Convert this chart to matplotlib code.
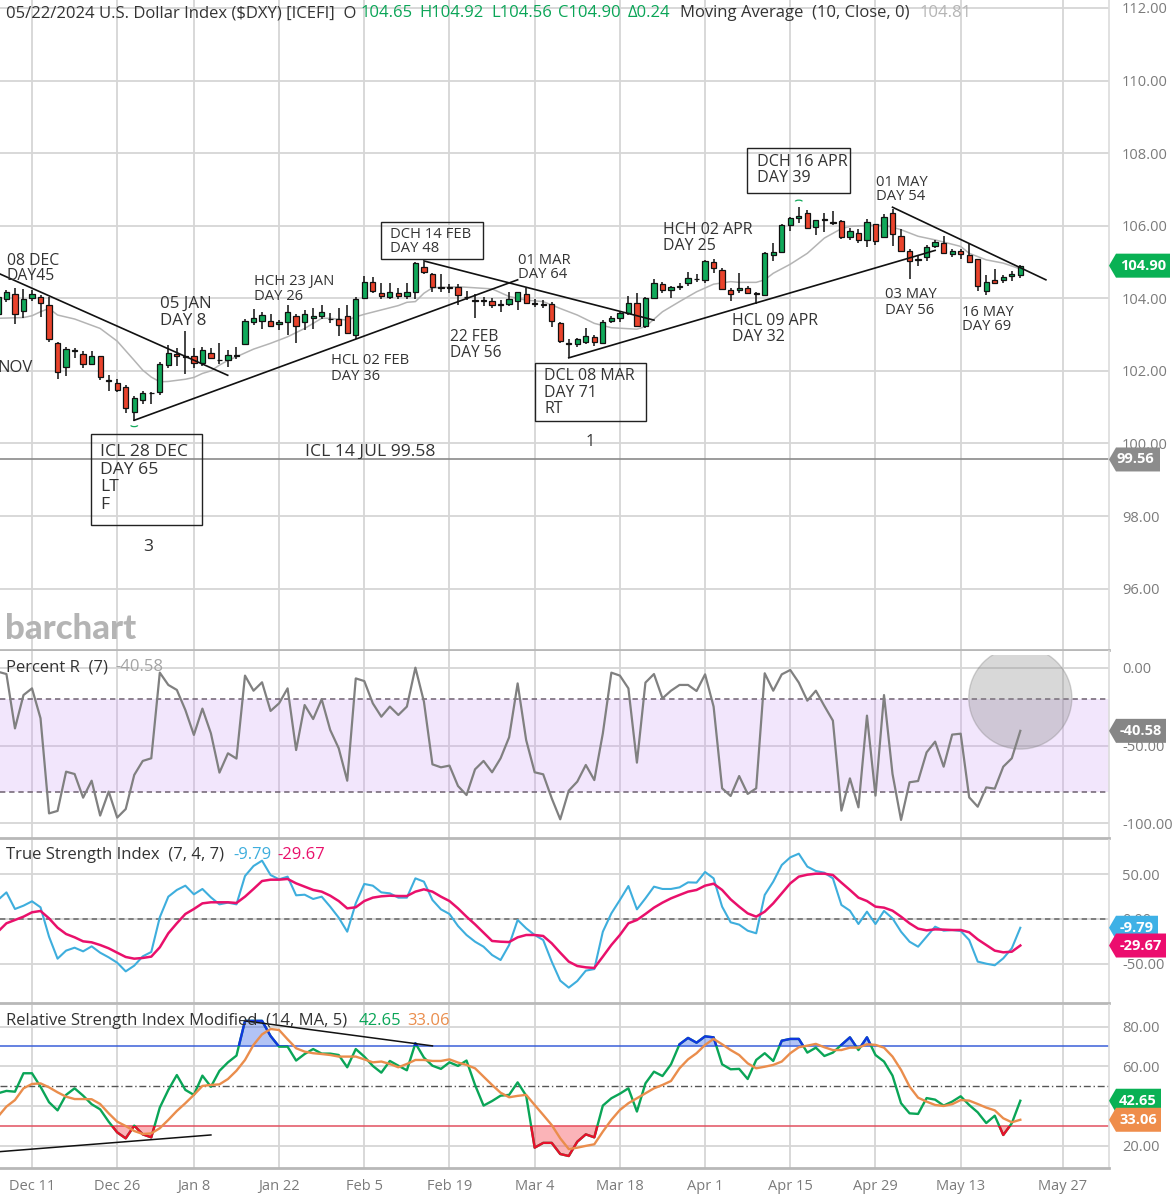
import numpy as np
import matplotlib
matplotlib.use('Agg')
import matplotlib.pyplot as plt
from matplotlib.patches import Rectangle, Ellipse, Arc, Polygon

plt.rcParams['font.family'] = ['Open Sans', 'DejaVu Sans']

# daily bars, index 0 is Dec 11
opens = [103.56,103.98,104.11,103.65,104.00,104.03,103.82,102.77,102.11,102.55,102.47,102.19,102.40,101.76,101.66,101.55,100.87,101.20,101.38,101.42,
         102.16,102.46,102.41,102.40,102.23,102.48,102.29,102.30,102.41,102.74,103.35,103.38,103.38,103.28,103.35,103.52,103.35,103.47,103.51,103.44,
         103.42,103.52,103.00,104.01,104.46,104.16,104.03,104.15,104.07,104.18,104.85,104.66,104.32,104.32,104.32,104.05,103.96,103.95,103.94,103.83,
         103.84,103.93,104.13,103.88,103.85,103.83,103.33,102.76,102.74,102.79,102.94,102.76,103.38,103.45,103.59,103.87,103.24,104.00,104.40,104.24,
         104.31,104.42,104.52,104.50,105.00,104.78,104.23,104.22,104.29,104.15,104.09,105.20,105.27,106.03,106.20,106.34,105.97,106.17,106.10,106.14,
         105.68,105.81,105.60,106.05,105.70,106.34,105.71,105.31,105.06,105.15,105.43,105.53,105.23,105.31,105.20,105.07,104.20,104.51,104.50,104.61,104.65]
closes = [104.05,104.17,103.56,103.98,104.11,103.87,102.88,101.97,102.60,102.58,102.18,102.41,101.84,101.72,101.47,100.99,101.24,101.38,101.40,102.20,
          102.49,102.42,102.39,102.23,102.57,102.36,102.30,102.43,102.45,103.37,103.47,103.55,103.24,103.34,103.63,103.24,103.58,103.50,103.61,103.42,
          103.27,103.05,103.97,104.46,104.21,104.06,104.18,104.07,104.18,104.97,104.72,104.30,104.29,104.29,104.08,104.03,103.94,103.94,103.82,103.82,
          103.97,104.17,103.88,103.84,103.82,103.37,102.82,102.74,102.87,102.97,102.79,103.36,103.45,103.59,103.87,103.24,104.01,104.43,104.24,104.30,
          104.34,104.55,104.53,105.03,104.83,104.26,104.13,104.29,104.14,104.13,105.26,105.29,106.01,106.21,106.28,105.95,106.15,106.19,106.07,105.68,
          105.86,105.60,106.10,105.59,106.23,105.76,105.31,105.04,105.09,105.42,105.56,105.24,105.31,105.23,105.00,104.35,104.46,104.43,104.58,104.68,104.90]
highs = [104.14,104.23,104.28,104.26,104.23,104.09,104.05,102.80,102.66,102.64,102.54,102.54,102.41,101.90,101.77,101.60,101.30,101.44,101.42,102.25,
         102.71,102.62,103.10,102.64,102.66,102.64,102.76,102.57,102.66,103.43,103.70,103.63,103.56,103.41,103.82,103.56,103.69,103.74,103.82,103.59,
         103.74,103.82,104.05,104.62,104.60,104.43,104.43,104.28,104.41,105.01,105.00,104.70,104.68,104.39,104.39,104.20,104.11,104.05,104.00,103.95,
         104.18,104.18,104.29,103.98,103.95,103.89,103.35,102.89,102.91,103.19,103.00,103.40,103.52,103.65,104.07,104.15,104.05,104.53,104.46,104.34,
         104.41,104.72,104.68,105.05,105.09,104.83,104.29,104.69,104.35,104.18,105.29,105.52,106.05,106.25,106.53,106.44,106.17,106.35,106.40,106.17,
         105.94,105.92,106.19,106.06,106.32,106.47,105.92,105.36,105.20,105.46,105.61,105.73,105.36,105.35,105.49,105.09,104.63,104.81,104.65,104.74,104.92]
lows = [103.45,103.89,103.28,103.45,103.93,103.49,102.80,101.79,101.86,102.36,102.08,102.18,101.74,101.45,101.42,100.85,100.61,101.08,101.08,101.35,
        102.08,102.14,101.91,102.08,102.14,102.34,102.18,102.10,102.34,102.73,103.26,103.15,103.23,103.12,102.99,102.78,103.14,103.15,103.43,103.31,
        102.96,103.03,102.89,104.00,104.14,103.98,103.98,103.98,103.98,103.98,104.68,104.18,104.18,104.14,103.82,103.95,103.45,103.80,103.74,103.61,
        103.80,103.67,103.85,103.75,103.74,103.21,102.78,102.36,102.66,102.73,102.69,102.75,103.31,103.34,103.54,103.22,103.19,103.98,104.15,104.00,
        104.24,104.33,104.44,104.42,104.70,104.23,103.93,104.14,104.11,103.85,104.07,105.03,105.25,105.86,106.07,105.90,105.75,105.84,106.01,105.64,
        105.61,105.52,105.42,105.47,105.68,105.44,105.29,104.52,104.88,105.03,105.38,105.22,105.14,105.09,104.98,104.20,104.09,104.41,104.41,104.48,104.56]

# moving average, read at these bars only
ma_bars = [-4,-1,0,1,2,3,5,8,10,12,13,14,15,16,18,19,20,21,22,23,24,26,28,30,32,33,34,35,37,38,39,41,43,44,45,46,47,50,54,56,58,60,62,64,66,68,71,72,74,76,78,80,82,83,85,86,87,89,91,93,95,96,98,100,101,102,104,106,109,110,112,114,116]
ma_vals = [103.45,103.47,103.52,103.63,103.72,103.54,103.43,103.17,102.82,102.29,102.02,101.83,101.70,101.71,101.77,101.82,101.93,102.00,102.16,102.29,102.39,102.60,102.76,102.94,103.17,103.31,103.45,103.45,103.40,103.49,103.56,103.68,103.80,103.89,103.91,104.14,104.29,104.32,104.26,104.05,103.95,103.91,103.72,103.54,103.31,103.19,103.15,103.22,103.63,103.91,104.18,104.39,104.46,104.44,104.44,104.51,104.69,104.94,105.24,105.66,105.92,105.98,106.01,106.01,105.96,105.89,105.71,105.61,105.43,105.24,105.06,104.97,104.81]

percent_r = [-2.6,-4.1,-39,-17.6,-13.3,-32.5,-93.6,-92,-66.8,-68.3,-83.5,-72.6,-95,-79.6,-96.3,-90.8,-68.9,-59.9,-58.2,-3.2,
             -11.1,-14.3,-27.2,-43.2,-26.3,-42.2,-67.4,-55,-58.4,-5.1,-14.8,-9.4,-27.8,-22.9,-13.3,-52.9,-24,-33,-20.3,-40,
             -51.8,-72.6,-6.9,-8.6,-22.9,-31.5,-25,-30.4,-25,0,-21.8,-62.1,-64,-62.9,-76,-81.8,-65.3,-59.9,-67.2,-58.2,
             -44.7,-10.1,-46.5,-67.2,-68.5,-83.9,-97.4,-79,-73.2,-62.5,-72.2,-42.2,-3.2,-5.1,-13.3,-61,-9.6,-4.1,-19.7,-14.8,
             -11.1,-11.1,-15,-4.3,-25,-77.5,-82.4,-69.6,-81.1,-77.5,-3.6,-14.8,-4.3,-1.5,-9.6,-21.2,-14.8,-24.6,-34,-91.8,
             -71.1,-89.7,-30.8,-82.2,-17.6,-68.3,-97.8,-73.6,-72.8,-54.4,-47.5,-63.6,-43,-42.4,-83.3,-89.3,-76.9,-77.7,-63.6,-58.2,-40.58]

tsi_line = [21.3,29.8,11.2,14.9,19.8,13.1,-19.8,-44.4,-35.4,-32.1,-36.2,-30.6,-37.7,-42.9,-48.9,-58.6,-52.2,-41.8,-36.9,1.9,
            25,32.5,37.3,27.6,33.6,24.2,16.4,18.3,16.4,48.1,59.3,65.3,49.2,44.4,47.4,26.5,27.2,22.4,25,13.8,
            1.5,-14.2,17.5,39.2,37.3,29.8,28.7,23.9,23.9,45.5,41.8,21.3,10.8,5.6,-7.8,-17.9,-25.4,-31,-40.3,-45.9,
            -29.1,-1.1,-10.4,-17.9,-23.5,-47.7,-69,-76.8,-69.4,-57.8,-56,-14.2,6.3,21.3,36.9,10.8,23.1,36.2,33.6,33.6,
            35.4,41,40.7,52.6,45.5,13.8,-3.7,-6.3,-13.1,-16,26.9,41.8,60.4,69,73.1,58.6,53.7,51.8,45.5,15.7,
            9.3,-5.6,8.2,-5.6,9,0.7,-14.2,-25.4,-31,-19.8,-8.6,-13.1,-12.3,-13.4,-23.5,-47.7,-50,-51.8,-44,-32.8,-9.79]
tsi_signal = [-14.2,-4.8,-1.1,2.6,7.5,9,0.7,-9.7,-16.8,-20.5,-25,-26.1,-29.1,-32.8,-37.7,-42.5,-44.4,-43.6,-42.1,-31.7,
              -16,-4.8,5.6,11.2,17.5,18.7,18.7,18.7,17.9,25,33.6,42.5,44,44,44.8,39.9,36.2,32.5,30.6,26.1,
              20.1,11.9,13.1,20.1,23.9,25.4,26.1,25.7,25.7,30.6,33.2,30.6,25,20.1,11.9,2.6,-6,-15.3,-24.6,-25.4,
              -25.8,-20.5,-17.9,-17.9,-19,-27.2,-37.7,-47.7,-52.6,-54.1,-54.8,-42.1,-29.1,-17.9,-4.8,-1.1,5.6,12.7,18.3,23.1,
              26.9,30.6,32.5,37.3,39.5,32.5,22,13.8,6.3,2.6,8.2,17.5,28.7,39.9,47.4,49.6,50.7,50.7,49.2,40.7,
              32.5,23.9,20.1,13.8,12.7,9.3,2.6,-4.8,-10.8,-12.7,-11.6,-11.9,-12.3,-12.3,-14.9,-22.8,-29.1,-35.4,-37.3,-36.6,-29.67]

rsi_line = [46.4,47.6,47.2,56.5,56.5,49.7,41.9,37.8,45.6,48.9,45.2,40.9,38.3,32.1,26.7,23.7,30.1,25.7,24.2,39.2,
            48.1,55.6,48.1,45.6,55.3,49.7,57.7,62,65.4,82.9,82.9,82.9,75.3,69.9,69.9,62.9,66.2,68.7,66.4,66.4,
            65.7,59.5,68.7,64.9,60.2,56.8,62.7,60.3,58,71.6,64.4,60.3,58.7,62,60.2,62.9,50.6,40.2,42.5,45.2,
            45.6,51.9,45.2,19,21.4,21.4,15.8,14.8,22,25.7,24.2,40.2,43.9,46.2,48.9,37.2,51.4,57.3,55.1,61,
            71.1,74.3,71.9,75.1,74.6,61,58.5,58.7,53.6,63.2,66.6,62.7,72.9,73.8,73.8,66.9,69.4,65.2,66.9,70.8,
            74.6,68.2,74.6,65.7,62.4,55.3,41.4,36.3,36,44,43.2,40.2,42.2,44.9,40.5,36.8,31.4,35.1,25.4,31.3,42.65]
rsi_ma = [34.6,39.7,43,48.9,51.1,51.4,49.4,46.9,44.7,43.5,43.5,43.4,41,36.3,32.1,29.9,27.4,25.9,26.2,28.8,
          33,37.5,41.4,45.6,50.1,50.6,50.9,53.6,57.8,63.2,70.8,76.1,78.8,78.3,73.6,69.1,67.4,66.6,66.2,65.7,
          64.9,64.9,64.9,63.5,62,62.4,61.2,59.5,61.2,63.2,63.2,62.7,62.7,63.5,61.9,60.7,59,54.8,50.6,46.7,
          44.4,45.1,45.6,40.5,35.5,30.4,23.7,18.3,19,19.9,20.7,27.1,33,38,41.4,43.9,46.4,48.9,50.6,52.6,
          59,63.5,66.6,70.8,73.8,71.1,68.2,65.7,61.5,59,59.8,60.7,62.4,66.6,69.6,70.4,71.3,69.6,68.2,68.2,
          69.4,69.4,71.1,70.8,69.4,64.9,58.2,49.8,44.2,42.2,40.5,40,40.9,43,42.7,41,39.2,37.8,33.8,31.8,33.06]

date_ticks = [0,10,19,29,39,49,59,69,79,89,99,109,121]
date_labels = ['Dec 11','Dec 26','Jan 8','Jan 22','Feb 5','Feb 19','Mar 4','Mar 18','Apr 1','Apr 15','Apr 29','May 13','May 27']
price_ticks = [96,98,100,102,104,106,108,110,112]
pr_ticks = [0,-50,-100]
tsi_ticks = [50,0,-50]
rsi_ticks = [20,40,60,80]
# trend lines drawn on the chart: bar, price, bar, price
price_trends = [(-3.75,104.67,22.97,101.88),(12,100.64,57,104.51),(46,105.03,73,103.40),(63,102.36,106,105.32),(101,106.51,119,104.51)]
rsi_trends = [(-3.75,17,21,25.4),(25,82.9,47,70.3)]

GRID = '#d6d6d6'
TICK = '#7b7b7b'
INK = '#333333'
UP = '#10a95a'
DOWN = '#e9432c'
GREEN = '#0aa557'
BLUE = '#3eaedd'
PINK = '#e9106b'
ORANGE = '#ea8d4c'

x = np.arange(-4, 117)
xlim = (-32/8.52, (1109-32)/8.52)

fig = plt.figure(figsize=(11.76, 12), dpi=100)

def panel(top, bottom, ylim, ticks, labels):
    ax = fig.add_axes([0, 1-bottom/1200, 1109/1176, (bottom-top)/1200])
    ax.set_xlim(xlim)
    ax.set_ylim(ylim)
    ax.set_xticks(date_ticks)
    ax.set_xticklabels([])
    ax.set_yticks(ticks)
    ax.set_yticklabels(labels)
    ax.yaxis.tick_right()
    ax.tick_params(axis='both', length=0, labelsize=10.5, labelcolor=TICK)
    ax.tick_params(axis='y', pad=9.4)
    ax.grid(True, color=GRID, lw=1.3)
    ax.set_axisbelow(True)
    for s in ['top', 'left']:
        ax.spines[s].set_visible(False)
    ax.spines['right'].set_color('#dcdcdc')
    ax.spines['right'].set_linewidth(1.2)
    ax.spines['bottom'].set_color('#b8b8b8')
    ax.spines['bottom'].set_linewidth(2)
    return ax

ax = panel(0, 650, (94.31, 112.22), price_ticks, ['%.2f' % v for v in price_ticks])
ax_pr = panel(651, 838, (-109.4, 10.7), pr_ticks, ['0.00', '-50.00', '-100.00'])
ax_tsi = panel(840, 1003, (-94, 88.4), tsi_ticks, ['50.00', '0.00', '-50.00'])
ax_rsi = panel(1005, 1168, (8.75, 90.9), rsi_ticks, ['%.2f' % v for v in rsi_ticks])
ax_rsi.set_xticklabels(date_labels)
ax_rsi.tick_params(axis='x', pad=8)

# price panel
ax.plot(ma_bars, ma_vals, color='#b4b4b4', lw=1.1, zorder=2)
ax.vlines(x, lows, highs, color='#111111', lw=1.1, zorder=3)
o = np.array(opens)
c = np.array(closes)
colors = [UP if b >= a else DOWN for a, b in zip(o, c)]
ax.bar(x, np.abs(c-o), bottom=np.minimum(o, c), width=0.62, color=colors, edgecolor='#111111', lw=0.9, zorder=4)
for x0, y0, x1, y1 in price_trends:
    ax.plot([x0, x1], [y0, y1], color='#111111', lw=1.2, zorder=5)
ax.axhline(99.56, color='#8a8a8a', lw=1.2, zorder=2)
ax.add_patch(Arc((12, 100.50), 0.8, 0.07, theta1=180, theta2=360, color=UP, lw=0.9))
ax.add_patch(Arc((90, 106.67), 0.8, 0.07, theta1=0, theta2=180, color=UP, lw=0.9))

# percent R panel
ax_pr.axhspan(-80, -20, color='#cf9cf5', alpha=0.25, lw=0, zorder=1.5)
ax_pr.axhline(-20, color='#6d6070', lw=1.1, ls=(0, (3.5, 2.5)), zorder=2)
ax_pr.axhline(-80, color='#6d6070', lw=1.1, ls=(0, (3.5, 2.5)), zorder=2)
ax_pr.plot(x, percent_r, color='#808080', lw=1.6, zorder=3)
circle = Ellipse((116, -19.5), 12.1, 65.6, facecolor='#8a8a8a', edgecolor='#7d7d7d', alpha=0.33, lw=1, zorder=4)
ax_pr.add_patch(circle)
circle.set_clip_path(Rectangle((100, -100), 30, 107.9, transform=ax_pr.transData))

# TSI panel
ax_tsi.axhline(0, color='#666666', lw=1.1, ls=(0, (3.5, 2.5)), zorder=2)
ax_tsi.plot(x, tsi_line, color=BLUE, lw=1.5, zorder=3)
ax_tsi.plot(x, tsi_signal, color=PINK, lw=1.8, zorder=4)

# RSI panel, line changes colour beyond the 70 and 30 levels
rsi = np.array(rsi_line)
ax_rsi.axhline(70, color='#3a5fd9', lw=1.1, zorder=2)
ax_rsi.axhline(30, color='#e2505f', lw=1.1, zorder=2)
ax_rsi.axhline(50, color='#555555', lw=1, ls=(0, (5, 2, 1, 2)), zorder=2)
ax_rsi.fill_between(x, rsi, 70, where=rsi > 70, interpolate=True, color='#3f6be8', alpha=0.4, lw=0, zorder=2)
ax_rsi.fill_between(x, rsi, 30, where=rsi < 30, interpolate=True, color='#f5454f', alpha=0.4, lw=0, zorder=2)
ax_rsi.plot(x, rsi, color=GREEN, lw=1.7, zorder=3)
hi, = ax_rsi.plot(x, rsi, color='#1136e0', lw=1.7, zorder=3.1)
hi.set_clip_path(Rectangle((xlim[0], 70), 140, 40, transform=ax_rsi.transData))
lo, = ax_rsi.plot(x, rsi, color='#e8102a', lw=1.7, zorder=3.1)
lo.set_clip_path(Rectangle((xlim[0], 0), 140, 30, transform=ax_rsi.transData))
ax_rsi.plot(x, rsi_ma, color=ORANGE, lw=1.7, zorder=4)
for x0, y0, x1, y1 in rsi_trends:
    ax_rsi.plot([x0, x1], [y0, y1], color='#111111', lw=1.1, zorder=5)

# everything written on top goes in a pixel sized overlay
ov = fig.add_axes([0, 0, 1, 1], zorder=10)
ov.set_xlim(0, 1176)
ov.set_ylim(1200, 0)
ov.axis('off')
ov.patch.set_alpha(0)

def label(px, py, s, color=INK, size=12, **kw):
    ov.text(px, py, s, color=color, fontsize=size, va='center', ha=kw.pop('ha', 'left'), **kw)

def tag(panel_ax, value, s, color, right, text_x):
    py = 1200 - panel_ax.transData.transform((0, value))[1]
    pts = [(1109, py), (1116, py-12), (right, py-12), (right, py+12), (1116, py+12)]
    ov.add_patch(Polygon(pts, closed=True, facecolor=color, edgecolor='none'))
    label(text_x, py, s, color='white', size=10.5, ha='center', fontweight='bold')

# header
label(6, 13, '05/22/2024 U.S. Dollar Index ($DXY) [ICEFI]  O')
label(361, 13, '104.65', color=GREEN)
label(419, 13, 'H104.92', color=GREEN)
label(491, 13, 'L104.56', color=GREEN)
label(558, 13, 'C104.90', color=GREEN)
label(628, 13, '\u03940.24', color=GREEN)
label(680, 13, 'Moving Average  (10, Close, 0)')
label(920, 13, '104.81', color='#b5b5b5')

# notes on the price panel
for px, py, s, size in [(7, 261, '08 DEC', 11.3), (7, 276, 'DAY45', 11.3), (-3, 368, 'NOV', 12), (160, 304, '05 JAN', 12.2), (160, 321, 'DAY 8', 12.2),
                        (254, 281, 'HCH 23 JAN', 10.6), (254, 296, 'DAY 26', 10.6), (331, 361, 'HCL 02 FEB', 10.6), (331, 376, 'DAY 36', 10.6),
                        (100, 452, 'ICL 28 DEC', 12.6), (100, 470, 'DAY 65', 12.6), (100, 487, 'LT', 12.6), (100, 505, 'F', 12.6), (143, 547, '3', 12.6),
                        (305, 452, 'ICL 14 JUL 99.58', 12.6), (390, 234, 'DCH 14 FEB', 10.6), (390, 249, 'DAY 48', 10.6),
                        (518, 260, '01 MAR', 10.6), (518, 274, 'DAY 64', 10.6), (450, 337, '22 FEB', 11.2), (450, 353, 'DAY 56', 11.2),
                        (544, 376, 'DCL 08 MAR', 11.5), (544, 393, 'DAY 71', 11.5), (544, 409, 'RT', 11.5), (586, 442, '1', 11.5),
                        (663, 230, 'HCH 02 APR', 11.5), (663, 246, 'DAY 25', 11.5), (732, 321, 'HCL 09 APR', 11.5), (732, 337, 'DAY 32', 11.5),
                        (757, 162, 'DCH 16 APR', 11.6), (757, 178, 'DAY 39', 11.6), (876, 182, '01 MAY', 10.6), (876, 196, 'DAY 54', 10.6),
                        (885, 295, '03 MAY', 10.6), (885, 310, 'DAY 56', 10.6), (962, 312, '16 MAY', 10.6), (962, 327, 'DAY 69', 10.6)]:
    label(px, py, s, size=size)
for bx, by, bw, bh in [(91, 434, 111, 91), (381, 222, 102, 37), (535, 363, 111, 58), (747, 148, 103, 45)]:
    ov.add_patch(Rectangle((bx, by), bw, bh, fill=False, edgecolor='#222222', lw=1))

ov.text(5, 639, 'barchart', color='#b4b4b4', fontsize=25, fontweight='black', va='baseline', family=['Lato', 'DejaVu Sans'])

# indicator titles
label(6, 667, 'Percent R  (7)')
label(115, 667, '-40.58', color='#a3a3a3')
label(6, 855, 'True Strength Index  (7, 4, 7)')
label(233, 855, '-9.79', color=BLUE)
label(277, 855, '-29.67', color=PINK)
label(6, 1021, 'Relative Strength Index Modified  (14, MA, 5)')
label(359, 1021, '42.65', color=GREEN)
label(407, 1021, '33.06', color=ORANGE)

# value tags at the right edge
tag(ax, 104.90, '104.90', '#09b154', 1170, 1143)
tag(ax, 99.56, '99.56', '#8c8c8c', 1160, 1135)
tag(ax_pr, -40.58, '-40.58', '#868686', 1166, 1141)
tag(ax_tsi, -9.79, '-9.79', '#3eb1e6', 1158, 1137)
tag(ax_tsi, -29.67, '-29.67', '#ec0d6e', 1166, 1141)
tag(ax_rsi, 42.65, '42.65', '#09b154', 1161, 1138)
tag(ax_rsi, 33.06, '33.06', '#ef8d4b', 1161, 1138)

fig.savefig('out.png', dpi=100)
